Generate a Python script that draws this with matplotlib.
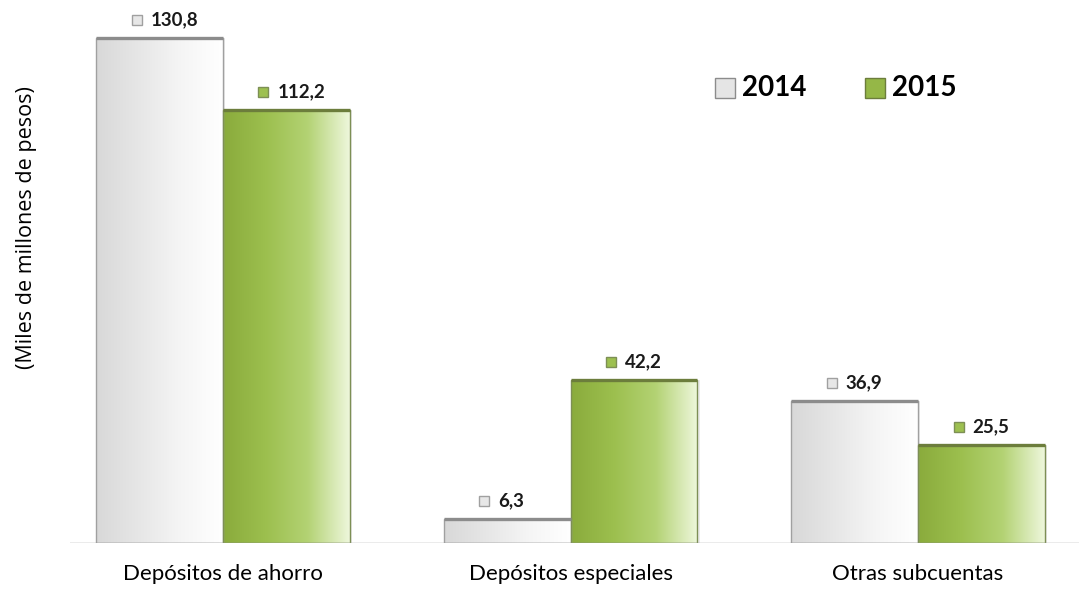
import matplotlib
matplotlib.use("Agg")
import matplotlib.pyplot as plt
import numpy as np
from matplotlib.colors import LinearSegmentedColormap
from matplotlib.lines import Line2D
from matplotlib.transforms import ScaledTranslation

# data
categories = ["Depósitos de ahorro", "Depósitos especiales", "Otras subcuentas"]
years = ["2014", "2015"]
values_2014 = [130.8, 6.3, 36.9]
values_2015 = [112.2, 42.2, 25.5]
labels_2014 = ["130,8", "6,3", "36,9"]
labels_2015 = ["112,2", "42,2", "25,5"]

plt.rcParams["font.family"] = ["Lato", "DejaVu Sans"]

grey_cmap = LinearSegmentedColormap.from_list("g14", ["#d8d8d8", "#e6e6e6", "#f5f5f5", "#ffffff"])
green_cmap = LinearSegmentedColormap.from_list("g15", ["#8aab3c", "#9cbf4e", "#b3d273", "#eef7dc"])
series = [
    (values_2014, labels_2014, grey_cmap, "#a0a0a0", "#8c8c8c", -0.5),
    (values_2015, labels_2015, green_cmap, "#7d8f55", "#6c7d3c", 0.5),
]

fig = plt.figure(figsize=(10.79, 5.89), dpi=100)
ax = fig.add_axes([0.065, 0.0781, 0.935, 0.9219])

x = np.arange(len(categories))
width = 0.365
grad = np.linspace(0, 1, 256).reshape(1, -1)

for vals, labs, cmap, edge, rim, shift in series:
    bars = ax.bar(x + shift * width, vals, width, facecolor="none", edgecolor=edge, linewidth=1.0, zorder=3)
    for b, lab in zip(bars, labs):
        x0, w, h = b.get_x(), b.get_width(), b.get_height()
        # soft shadow
        ax.bar(x0 + w / 2 + 0.006, h, w, bottom=0, color="#000000", alpha=0.08, zorder=1)
        im = ax.imshow(grad, extent=[x0, x0 + w, 0, h], aspect="auto", cmap=cmap, zorder=2)
        im.set_clip_path(b)
        ax.plot([x0, x0 + w], [h, h], color=rim, lw=2.4, zorder=4, solid_capstyle="butt")
        cx = x0 + w / 2
        mk = ScaledTranslation(-23 / 100, 18 / 100, fig.dpi_scale_trans)
        ax.plot(cx, h, marker="s", ms=7.5, mfc=cmap(0.35), mec=edge, mew=1.0,
                transform=ax.transData + mk, zorder=5, clip_on=False)
        ax.annotate(lab, (cx, h), xytext=(-9, 18), textcoords="offset pixels",
                    ha="left", va="center", fontsize=13.5, fontweight="bold", color="#1a1a1a")

ax.set_xlim(-0.44, 2.463)
ax.set_ylim(0, 140.7)
ax.axhline(0, color="#9a9a9a", lw=1.0, zorder=6)
for s in ax.spines.values():
    s.set_visible(False)
ax.set_yticks([])
ax.set_xticks(x)
ax.set_xticklabels(categories, fontsize=16)
ax.tick_params(axis="x", length=0, pad=15)
fig.text(27 / 1079, 1 - 228 / 589, "(Miles de millones de pesos)", rotation=90,
         ha="center", va="center", fontsize=15.5, family=["Open Sans", "DejaVu Sans"])

# legend squares + labels
leg_x = [725 / 1079, 875 / 1079]
leg_y = 1 - 88 / 589
leg_cols = [(grey_cmap(0.3), "#8c8c8c"), (green_cmap(0.2), "#6c7d3c")]
for lx, yr, (fc, ec) in zip(leg_x, years, leg_cols):
    fig.add_artist(Line2D([lx], [leg_y], ls="none", marker="s", ms=15, mfc=fc, mec=ec,
                          transform=fig.transFigure))
    fig.text(lx + 17 / 1079, leg_y, yr, ha="left", va="center", fontsize=20, fontweight="bold")

fig.savefig("out.png", dpi=100)
